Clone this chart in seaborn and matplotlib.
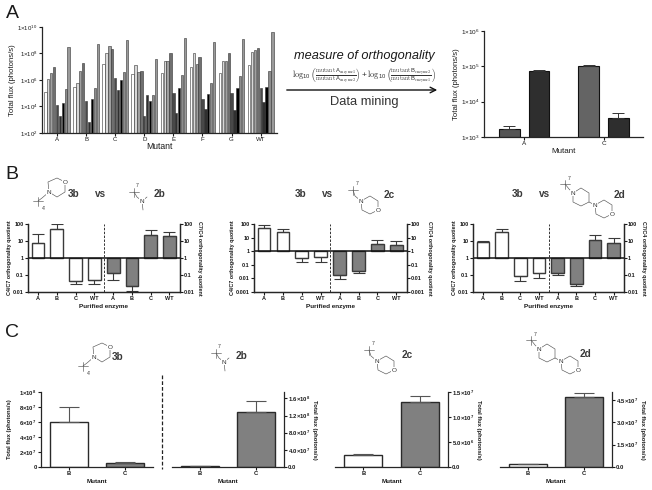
import numpy as np
import pandas as pd
import matplotlib
matplotlib.use('Agg')
import matplotlib.pyplot as plt
import seaborn as sns

W, H = 652, 490

# Panel A, screening of all mutants (photons/s)
mutants = ['A', 'B', 'C', 'D', 'E', 'F', 'G', 'WT']
screen_series = ['s1', 's2', 's3', 's4', 's5', 's6', 's7', 's8', 's9']
screen_flux = [
    [1.3e5, 1.1e6, 3.2e6, 1.0e7, 1.4e4, 1.9e3, 1.7e4, 2.0e5, 3.2e8],
    [3.2e5, 6.3e5, 5.0e6, 2.0e7, 2.8e4, 6.3e2, 4.0e4, 2.5e5, 5.0e8],
    [1.6e7, 1.0e8, 4.0e8, 2.2e8, 1.3e6, 1.8e5, 1.0e6, 4.0e6, 1.1e9],
    [2.8e6, 1.3e7, 4.0e6, 4.5e6, 1.9e3, 7.0e4, 2.8e4, 7.0e4, 4.0e7],
    [3.5e6, 2.5e7, 2.5e7, 1.0e8, 1.1e5, 3.2e3, 2.5e5, 2.2e6, 1.4e9],
    [1.0e7, 1.0e8, 1.6e7, 5.6e7, 4.0e4, 6.3e3, 8.9e4, 6.3e5, 7.1e8],
    [3.2e6, 2.5e7, 2.5e7, 1.0e8, 1.0e5, 5.9e3, 2.3e5, 2.0e6, 1.3e9],
    [1.3e7, 1.3e8, 2.0e8, 2.5e8, 2.3e5, 2.2e4, 3.2e5, 5.0e6, 4.0e9],
]
screen_colors = ['#ffffff', '#d8d8d8', '#a0a0a0', '#707070', '#484848', '#303030', '#000000', '#8c8c8c', '#9a9a9a']

# Panel A, selected pair
pair_mutants = ['A', 'C']
pair_substrates = ['one', 'two']
pair_flux = [[1.72e3, 7.4e4], [1.05e5, 3.4e3]]
pair_err = [[2.0e3, 7.7e4], [1.08e5, 4.7e3]]
pair_colors = ['#555555', '#2e2e2e', '#646464', '#2e2e2e']

# Panel B, orthogonality quotients
enzymes = ['A', 'B', 'C', 'WT', 'A', 'B', 'C', 'WT']
enzyme_groups = ['C4/C7'] * 4 + ['C7/C4'] * 4
q_2b = [8.0, 48.0, 0.044, 0.052, 0.14, 0.024, 24.0, 20.0]
q_2b_err = [25.0, 100.0, 0.028, 0.028, 0.048, 0.0115, 44.0, 36.0]
q_2c = [51.0, 26.0, 0.32, 0.35, 0.0175, 0.036, 3.3, 2.8]
q_2c_err = [85.0, 43.0, 0.15, 0.17, 0.009, 0.023, 6.6, 5.9]
q_2d = [8.3, 36.0, 0.083, 0.14, 0.126, 0.029, 12.0, 8.0]
q_2d_err = [10.0, 50.0, 0.044, 0.069, 0.095, 0.024, 24.0, 15.0]

# Panel C, purified flux
c_mutants = ['B', 'C']
c_3b = [6.0e7, 5.4e6]
c_3b_err = [8.05e7, 6.2e6]
c_2b = [1.5e6, 1.28e8]
c_2b_err = [1.7e6, 1.55e8]
c_2c = [2.4e6, 1.31e7]
c_2c_err = [2.6e6, 1.43e7]
c_2d = [1.8e6, 4.7e7]
c_2d_err = [1.9e6, 5.0e7]

sns.set_style('ticks')
plt.rcParams['font.family'] = ['Liberation Sans', 'DejaVu Sans']
plt.rcParams['mathtext.default'] = 'regular'
plt.rcParams['axes.linewidth'] = 0.9

TXT = '#1a1a1a'
fig = plt.figure(figsize=(W / 100, H / 100), dpi=100)


def px_axes(left, top, right, bottom):
    ax = fig.add_axes([left / W, 1 - bottom / H, (right - left) / W, (bottom - top) / H])
    ax.patch.set_alpha(0)
    return ax


def sci(m, e):
    return f'{m}×10$^{{{e}}}$'


def up_down(vals, tops):
    vals, tops = np.array(vals), np.array(tops)
    return [np.clip(vals - tops, 0, None), np.clip(tops - vals, 0, None)]


def style_ticks(ax, size, bold=False):
    ax.tick_params(labelsize=size, length=2, width=0.8, pad=1, colors=TXT)
    if bold:
        for t in ax.get_xticklabels() + ax.get_yticklabels():
            t.set_fontweight('bold')


def floor_bars(ax, floor):
    # log axis drops bars that start at zero, so start them at the axis floor
    for p in ax.patches:
        top = p.get_y() + p.get_height()
        p.set_y(floor)
        p.set_height(top - floor)


# Panel A, left
ax = px_axes(42, 27, 277, 133)
screen_df = pd.DataFrame(screen_flux, index=mutants, columns=screen_series)
screen_df = screen_df.reset_index().melt(id_vars='index', var_name='series', value_name='flux')
sns.barplot(data=screen_df, x='index', y='flux', hue='series', palette=screen_colors, saturation=1,
            width=0.9, gap=0.2, edgecolor='#333333', linewidth=0.4, log_scale=True, legend=False, ax=ax)
floor_bars(ax, 1e2)
ax.set_ylim(1e2, 1e10)
ax.set_xlim(-0.515, 7.56)
ax.set_yticks([1e2, 1e4, 1e6, 1e8, 1e10], [sci(1, e) for e in (2, 4, 6, 8, 10)])
ax.minorticks_off()
ax.set_xlabel('Mutant', fontsize=6.2, labelpad=0, color=TXT)
ax.set_ylabel('Total flux (photons/s)', fontsize=5.6, labelpad=1, color=TXT)
sns.despine(ax=ax)
style_ticks(ax, 4.4)

# Panel A, right
ax = px_axes(484, 31, 643, 137)
pair_df = pd.DataFrame(pair_flux, index=pair_mutants, columns=pair_substrates)
pair_df = pair_df.reset_index().melt(id_vars='index', var_name='substrate', value_name='flux')
sns.barplot(data=pair_df, x='index', y='flux', hue='substrate', palette=['#555555', '#2e2e2e'], saturation=1,
            width=0.748, gap=0.3, edgecolor='#111111', linewidth=0.8, log_scale=True, legend=False, ax=ax)
floor_bars(ax, 1e3)
bars = [p for p in ax.patches if p.get_width() > 0]
bars = sorted(bars, key=lambda p: p.get_x())
pair_vals = np.ravel(pair_flux)
pair_tops = np.ravel(pair_err)
for p, c in zip(bars, pair_colors):
    p.set_facecolor(c)
ax.errorbar([p.get_x() + p.get_width() / 2 for p in bars], pair_vals, yerr=up_down(pair_vals, pair_tops),
            fmt='none', ecolor='#333333', elinewidth=0.7, capsize=4.3, capthick=0.7)
ax.set_ylim(1e3, 1e6)
ax.set_xlim(-0.504, 1.496)
ax.set_yticks([1e3, 1e4, 1e5, 1e6], [sci(1, e) for e in (3, 4, 5, 6)])
ax.minorticks_off()
ax.set_xlabel('Mutant', fontsize=5.8, labelpad=1, color=TXT)
ax.set_ylabel('Total flux (photons/s)', fontsize=5.6, labelpad=1, color=TXT)
sns.despine(ax=ax)
style_ticks(ax, 4.6)


def quotient_panel(rect, vals, tops, floor, dash):
    ax = px_axes(*rect)
    slots = list(range(len(enzymes)))
    sns.barplot(x=slots, y=np.log10(vals), hue=enzyme_groups, dodge=False, palette=['white', '#808080'],
                saturation=1, width=0.68, edgecolor='#3a3a3a', linewidth=1.0, legend=False, ax=ax)
    ax.errorbar(slots, np.log10(vals), yerr=up_down(np.log10(vals), np.log10(tops)), fmt='none',
                ecolor='#3a3a3a', elinewidth=0.8, capsize=4.5, capthick=0.8)
    ax.axhline(0, color='#111111', lw=1.1)
    ax.axvline(dash, color='#333333', lw=0.7, ls=(0, (2.5, 1.5)))
    ax.set_ylim(floor, 2)
    ax.set_xlim(-0.53, 7.56)
    pos = list(range(floor, 3))
    names = {2: '100', 1: '10', 0: '1', -1: '0.1', -2: '0.01', -3: '0.001'}
    labels = [names[p] for p in pos]
    ax.set_yticks(pos, labels)
    ax.set_xticks(slots, enzymes)
    ax.set_xlabel('Purified enzyme', fontsize=4.6, fontweight='bold', labelpad=2, color=TXT)
    ax.set_ylabel('C4/C7 orthogonality quotient', fontsize=3.9, fontweight='bold', labelpad=1, color=TXT)
    ax.spines['top'].set_visible(False)
    style_ticks(ax, 4, bold=True)
    right = ax.twinx()
    right.patch.set_alpha(0)
    right.set_ylim(floor, 2)
    right.set_yticks(pos, labels)
    right.set_ylabel('C7/C4 orthogonality quotient', fontsize=3.9, fontweight='bold', rotation=270,
                     labelpad=5, color=TXT)
    right.spines['top'].set_visible(False)
    style_ticks(right, 4, bold=True)


quotient_panel((28, 224, 180, 292), q_2b, q_2b_err, -2, 3.52)
quotient_panel((254, 224, 407, 292), q_2c, q_2c_err, -3, 3.5)
quotient_panel((473, 224, 624, 292), q_2d, q_2d_err, -2, 3.52)


def flux_panel(rect, vals, tops, ymax, ticks, labels, fill, side):
    ax = px_axes(*rect)
    sns.barplot(x=c_mutants, y=vals, hue=c_mutants, palette=fill, saturation=1, width=0.67,
                edgecolor='#2a2a2a', linewidth=1.0, legend=False, ax=ax)
    ax.errorbar([0, 1], vals, yerr=up_down(vals, tops), fmt='none', ecolor='#555555',
                elinewidth=0.8, capsize=7, capthick=0.8)
    ax.set_ylim(0, ymax)
    ax.set_xlim(-0.5, 1.5)
    ax.set_yticks(ticks, labels)
    ax.set_xlabel('Mutant', fontsize=4.6, fontweight='bold', labelpad=2, color=TXT)
    if side == 'right':
        ax.yaxis.tick_right()
        ax.yaxis.set_label_position('right')
        ax.set_ylabel('Total flux (photons/s)', fontsize=4.2, fontweight='bold', rotation=270, labelpad=5, color=TXT)
        ax.spines['left'].set_visible(False)
        ax.spines['right'].set_visible(True)
    else:
        ax.set_ylabel('Total flux (photons/s)', fontsize=4.2, fontweight='bold', labelpad=5.5, color=TXT)
        ax.spines['right'].set_visible(False)
    ax.spines['top'].set_visible(False)
    style_ticks(ax, 4.2, bold=True)


flux_panel((41, 392, 153, 467), c_3b, c_3b_err, 1e8, [0, 2e7, 4e7, 6e7, 8e7, 1e8],
           ['0', sci(2, 7), sci(4, 7), sci(6, 7), sci(8, 7), sci(1, 8)], ['white', '#808080'], 'left')
flux_panel((172, 392, 284, 467), c_2b, c_2b_err, 1.75e8, [0, 4e7, 8e7, 1.2e8, 1.6e8],
           ['0.0', sci('4.0', 7), sci('8.0', 7), sci('1.2', 8), sci('1.6', 8)], ['white', '#808080'], 'right')
flux_panel((335, 392, 448, 467), c_2c, c_2c_err, 1.5e7, [0, 5e6, 1e7, 1.5e7],
           ['0.0', sci('5.0', 6), sci('1.0', 7), sci('1.5', 7)], ['white', '#808080'], 'right')
flux_panel((500, 392, 612, 467), c_2d, c_2d_err, 5.04e7, [0, 1.5e7, 3e7, 4.5e7],
           ['0.0', sci('1.5', 7), sci('3.0', 7), sci('4.5', 7)], ['white', '#808080'], 'right')

# overlay in pixel coordinates: letters, arrow, equation and the drawn structures
ov = fig.add_axes([0, 0, 1, 1])
ov.set_xlim(0, W)
ov.set_ylim(H, 0)
ov.axis('off')
ov.patch.set_alpha(0)

for letter, x, y in [('A', 12, 13), ('B', 12, 174), ('C', 12, 332)]:
    ov.text(x, y, letter, fontsize=14, ha='center', va='center', color=TXT)

ov.text(364, 56, 'measure of orthogonality', fontsize=9.2, style='italic', ha='center', va='center', color=TXT)
ov.text(364, 102, 'Data mining', fontsize=9.3, ha='center', va='center', color='#333333')
eq = (r'$\log_{10}\left(\frac{\mathrm{mutant}\,A_{\mathrm{enzyme1}}}{\mathrm{mutant}\,A_{\mathrm{enzyme2}}}\right)'
      r'+\log_{10}\left(\frac{\mathrm{mutant}\,B_{\mathrm{enzyme2}}}{\mathrm{mutant}\,B_{\mathrm{enzyme1}}}\right)$')
ov.text(364, 76, eq, fontsize=6, ha='center', va='center', math_fontfamily='cm', color='#333333')
ov.annotate('', xy=(440, 90), xytext=(284, 90), arrowprops=dict(arrowstyle='->', color='#111111', lw=1.0))

ov.plot([162, 162], [375, 469], color='#222222', lw=0.9, ls=(0, (3, 1.6)))


def label(x, y, s):
    ov.text(x, y, s, fontsize=7.2, fontweight='bold', ha='center', va='center', color='#3a3a3a')


def bonds(pts, x, y):
    ov.plot([x + p[0] for p in pts], [y + p[1] for p in pts], color='#555555', lw=0.45)


def atom(x, y, s):
    ov.text(x, y, s, fontsize=4.6, ha='center', va='center', color='#333333',
            bbox=dict(fc='white', ec='none', pad=0.4))


def cut(x, y, mark, mx, my):
    bonds([(-5, 0), (5, 0)], x, y)
    bonds([(0, -4), (0, 5)], x, y)
    ov.text(x + mx, y + my, mark, fontsize=3.8, ha='center', va='center', color='#444444')


def morph_down(x, y):
    # ring hanging below and to the right of the nitrogen at x, y
    bonds([(0, 0), (1, 9), (9, 13), (17, 9), (17, 0), (9, -5), (0, 0)], x, y)
    atom(x, y, 'N')
    atom(x + 17, y + 9, 'O')


def mol_3b(x, y):
    bonds([(0, 0), (-1, -10), (8, -14), (16, -10), (16, 0), (8, 5), (0, 0)], x, y)
    bonds([(0, 0), (-7, 6), (-11, 9)], x, y)
    cut(x - 11, y + 9, "4'", 6, 7)
    atom(x, y, 'N')
    atom(x + 16, y - 10, 'O')


def mol_2b(x, y):
    bonds([(0, 0), (5, -4)], x, y)
    bonds([(0, 0), (1, 9)], x, y)
    bonds([(0, 0), (-5, -4), (-8, -9)], x, y)
    cut(x - 8, y - 9, "7'", 4, -7)
    atom(x, y, 'N')


def mol_2c(x, y):
    morph_down(x, y)
    bonds([(0, 0), (-6, -5), (-8, -11)], x, y)
    cut(x - 8, y - 11, "7'", 5, -7)


def mol_2d(x, y):
    bonds([(0, 0), (0, 9), (8, 13), (16, 9), (16, 0), (8, -5), (0, 0)], x, y)
    bonds([(16, 9), (22, 12)], x, y)
    atom(x, y, 'N')
    morph_down(x + 22, y + 12)
    bonds([(0, 0), (-4, -4), (-8, -9)], x, y)
    cut(x - 8, y - 9, "7'", 5, -6)


mol_3b(49, 192)
label(74, 194, '3b')
label(101, 194, 'vs')
mol_2b(142, 201)
label(159, 194, '2b')

label(301, 194, '3b')
label(328, 194, 'vs')
mol_2c(361, 201)
label(389, 195, '2c')

label(518, 194, '3b')
label(545, 194, 'vs')
mol_2d(573, 193)
label(619, 195, '2d')

mol_3b(94, 357)
label(118, 357, '3b')
mol_2b(224, 362)
label(242, 356, '2b')
mol_2c(377, 361)
label(407, 355, '2c')
mol_2d(539, 349)
label(585, 354, '2d')

fig.savefig('out.png', dpi=100)
